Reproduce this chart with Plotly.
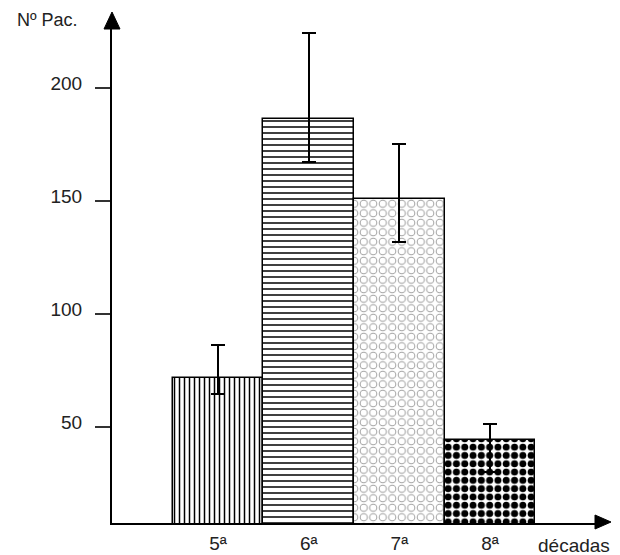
import plotly.graph_objects as go

# ---- data ----
categories = ["5ª", "6ª", "7ª", "8ª"]
patients = [71.5, 186.3, 150.9, 44.2]
err_high = [86.3, 224.5, 175.1, 51.3]
err_low = [64.6, 167.4, 132.0, 30.2]
y_ticks = [50, 100, 150, 200]

err_plus = [h - v for h, v in zip(err_high, patients)]
err_minus = [v - l for v, l in zip(patients, err_low)]

W, H = 620, 555
L, R, T, B = 112, 598, 28, 523  # plot area in pixels


def px(x):
    return (x - L) / (R - L)


def py(y):
    return (B - y) / (B - T)


FONT = "Liberation Sans"
TXT = "#222222"

fig = go.Figure()

# main bars with textures
fig.add_trace(go.Bar(
    x=categories, y=patients,
    marker=dict(
        color="white",
        line=dict(color="black", width=1.5),
        pattern=dict(
            shape=["|", "-", ".", "."],
            fgcolor=["black", "black", "#a0a0a0", "black"],
            bgcolor="white",
            size=[5, 6, 9.5, 8.3],
            solidity=[0.3, 0.25, 0.58, 0.56],
            fillmode="replace",
        ),
    ),
    showlegend=False,
    hoverinfo="skip",
))

# overlay: hollows out the grey dots of 7ª into rings, and carries the error bars
fig.add_trace(go.Bar(
    x=categories, y=patients,
    marker=dict(
        color="rgba(0,0,0,0)",
        line=dict(width=0),
        pattern=dict(
            shape=["", "", ".", ""],
            fgcolor="white",
            bgcolor="rgba(0,0,0,0)",
            size=9.5,
            solidity=0.33,
            fillmode="replace",
        ),
    ),
    error_y=dict(
        type="data", symmetric=False,
        array=err_plus, arrayminus=err_minus,
        color="black", thickness=1.8, width=7,
    ),
    showlegend=False,
    hoverinfo="skip",
))

fig.update_layout(
    width=W, height=H,
    margin=dict(l=L, r=W - R, t=T, b=H - B, pad=0, autoexpand=False),
    paper_bgcolor="white", plot_bgcolor="white",
    barmode="overlay", bargap=0,
    font=dict(family=FONT, size=19, color=TXT),
    xaxis=dict(
        range=[-1.169, 4.19],
        automargin=False,
        showline=True, linecolor="black", linewidth=2,
        ticks="", showgrid=False, zeroline=False,
        tickfont=dict(family=FONT, size=19, color=TXT),
        ticklabelstandoff=2,
    ),
    yaxis=dict(
        range=[7.52, 226.55],
        automargin=False,
        showline=True, linecolor="black", linewidth=2,
        ticks="outside", ticklen=15, tickwidth=1.5, tickcolor="#333333",
        tickvals=y_ticks, ticktext=[str(v) for v in y_ticks],
        ticklabelstandoff=9,
        ticklabelshift=-5,
        showgrid=False, zeroline=False,
        tickfont=dict(family=FONT, size=19, color=TXT),
    ),
    shapes=[
        # y-axis arrowhead
        dict(type="path", xref="paper", yref="paper",
             path=f"M {px(112)} {py(12)} L {px(104)} {py(29)} L {px(120)} {py(29)} Z",
             fillcolor="black", line=dict(color="black", width=1)),
        # x-axis arrowhead
        dict(type="path", xref="paper", yref="paper",
             path=f"M {px(611)} {py(522)} L {px(595)} {py(515)} L {px(595)} {py(529)} Z",
             fillcolor="black", line=dict(color="black", width=1)),
    ],
    annotations=[
        dict(text="Nº Pac.", xref="paper", yref="paper",
             x=px(47), y=py(20), xanchor="center", yanchor="middle",
             showarrow=False, font=dict(family=FONT, size=18, color=TXT)),
        dict(text="décadas", xref="paper", yref="paper",
             x=px(574), y=py(545), xanchor="center", yanchor="middle",
             showarrow=False, font=dict(family=FONT, size=19, color=TXT)),
    ],
)

fig.write_html("out.html")
